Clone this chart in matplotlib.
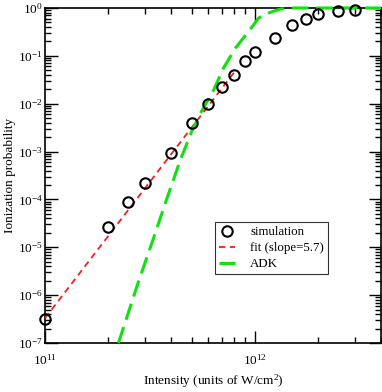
import matplotlib
matplotlib.use("Agg")
import matplotlib.pyplot as plt
import numpy as np

plt.rcParams['font.family'] = ['Liberation Serif', 'DejaVu Serif']
plt.rcParams['mathtext.fontset'] = 'custom'
plt.rcParams['mathtext.rm'] = 'Liberation Serif'
plt.rcParams['mathtext.it'] = 'Liberation Serif:italic'

# simulation points (intensity in W/cm^2, probability)
sim_x = [1e11, 2e11, 2.5e11, 3e11, 4e11, 5e11, 6e11, 7e11, 8e11, 9e11,
         1e12, 1.25e12, 1.5e12, 1.75e12, 2e12, 2.5e12, 3e12]
sim_y = [3.2e-7, 2.65e-5, 8.9e-5, 2.2e-4, 9.3e-4, 3.95e-3, 9.9e-3, 2.2e-2,
         4.0e-2, 7.8e-2, 0.12, 0.236, 0.44, 0.59, 0.75, 0.87, 0.9]

# power-law fit (straight line on log-log), endpoints
fit_x = [1e11, 8e11]
fit_y = [3.3e-7, 4.6e-2]

# ADK curve
adk_x = [2.24e11, 2.8e11, 3.3e11, 3.79e11, 4.42e11, 5.0e11, 5.52e11, 6.37e11,
         7.1e11, 8.1e11, 9.3e11, 1.045e12, 1.19e12, 1.33e12, 1.5e12, 4e12]
adk_y = [1e-7, 2.0e-6, 1.6e-5, 9.7e-5, 6.7e-4, 2.6e-3, 6.4e-3, 1.94e-2,
         5.57e-2, 0.146, 0.315, 0.62, 0.82, 0.95, 1.0, 1.0]

fig = plt.figure(figsize=(3.82, 3.92), dpi=100)
ax = fig.add_axes([45 / 382, 49 / 392, 336 / 382, 335 / 392])

ax.plot(sim_x, sim_y, linestyle='none', marker='o', ms=7.5, mfc='none',
        mec='black', mew=1.5, label='simulation', zorder=5, clip_on=False)
ax.plot(fit_x, fit_y, color='#ff1a1a', lw=1.3, dashes=(3.5, 2.5),
        label='fit (slope=5.7)', zorder=3)
ax.plot(adk_x, adk_y, color='#11e011', lw=2.2, dashes=(5.5, 2.5),
        label='ADK', zorder=4, clip_on=False)

ax.set_xscale('log')
ax.set_yscale('log')
ax.set_xlim(1e11, 4e12)
ax.set_ylim(1e-7, 1)

ax.tick_params(which='both', direction='in', top=True, right=True,
               labelsize=9.5, width=1)
ax.tick_params(which='major', length=9)
ax.tick_params(which='minor', length=4.5)
ax.tick_params(axis='x', pad=7)
ax.tick_params(axis='y', pad=1.5)
ax.set_yticks([10.0 ** k for k in range(-7, 1)])
for s in ax.spines.values():
    s.set_linewidth(1.2)

ax.set_xlabel('Intensity (units of W/cm$^2$)', fontsize=9.5, labelpad=4)
ax.set_ylabel('Ionization probability', fontsize=9.5)
ax.yaxis.set_label_coords(-0.085, 0.5)

leg = ax.legend(loc='lower right', bbox_to_anchor=((328 - 45) / 336, (343 - 274) / 335),
                bbox_transform=ax.transAxes, fontsize=9.3, frameon=True,
                fancybox=False, edgecolor='black', handlelength=1.2,
                borderpad=0.3, labelspacing=0.3, handletextpad=1.2,
                borderaxespad=0)
leg.get_frame().set_linewidth(0.8)

fig.savefig('out.png', dpi=100)
